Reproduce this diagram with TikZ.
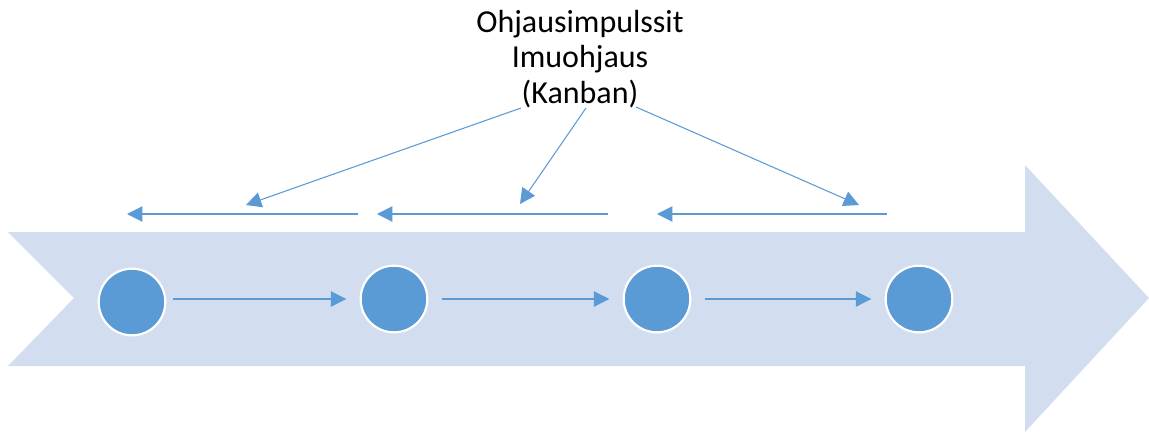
\documentclass[tikz,border=0pt]{standalone}
\usepackage{fontspec}
\setmainfont{Carlito}
\usetikzlibrary{arrows.meta,calc}
\definecolor{bandfill}{HTML}{D2DEEF}
\definecolor{accent}{HTML}{5B9BD5}
\tikzset{
  stage/.style={circle, draw=white, line width=1.6pt, fill=accent,
    minimum size=50pt, inner sep=0pt},
  flow/.style={draw=accent, line width=0.8pt,
    -{Triangle[length=11.5pt,width=11.5pt]}},
  label/.style={font=\fontsize{24pt}{26.6pt}\selectfont, align=center,
    inner sep=0pt}
}
\begin{document}
\begin{tikzpicture}[x=0.75pt,y=-0.75pt]
\useasboundingbox (0,0) rectangle (1149,432);
% chevron band
\fill[bandfill] (8,232) -- (1025,232) -- (1025,165) -- (1149,298)
  -- (1025,432) -- (1025,366) -- (8,366) -- (74,298) -- cycle;
% process stages
\node[stage] (c1) at (132,302) {};
\node[stage] (c2) at (394,299) {};
\node[stage] (c3) at (657,299) {};
\node[stage] (c4) at (919,299) {};
\draw[flow, shorten <=5pt, shorten >=10pt] (c1.east |- c2) -- (c2.west);
\draw[flow, shorten <=10pt, shorten >=10pt] (c2) -- (c3);
\draw[flow, shorten <=10pt, shorten >=10pt] (c3) -- (c4);
% heading (base anchor sits on the last line)
\node[label, anchor=base] (t) at (580,103) {Ohjausimpulssit\\Imuohjaus\\(Kanban)};
% control signal lines
\coordinate (s1) at (358,214); \coordinate (e1) at (127,214);
\coordinate (s2) at (608,214); \coordinate (e2) at (377,214);
\coordinate (s3) at (887,214); \coordinate (e3) at (657,214);
\draw[flow] (s1) -- (e1);
\draw[flow] (s2) -- (e2);
\draw[flow] (s3) -- (e3);
% impulses from the heading
\coordinate (d1) at (521,108); \coordinate (f1) at (246,205);
\coordinate (d2) at (586,108); \coordinate (f2) at (520,204);
\coordinate (d3) at (636,107); \coordinate (f3) at (859,205);
\draw[flow] (d1) -- (f1);
\draw[flow] (d2) -- (f2);
\draw[flow] (d3) -- (f3);
\end{tikzpicture}
\end{document}
